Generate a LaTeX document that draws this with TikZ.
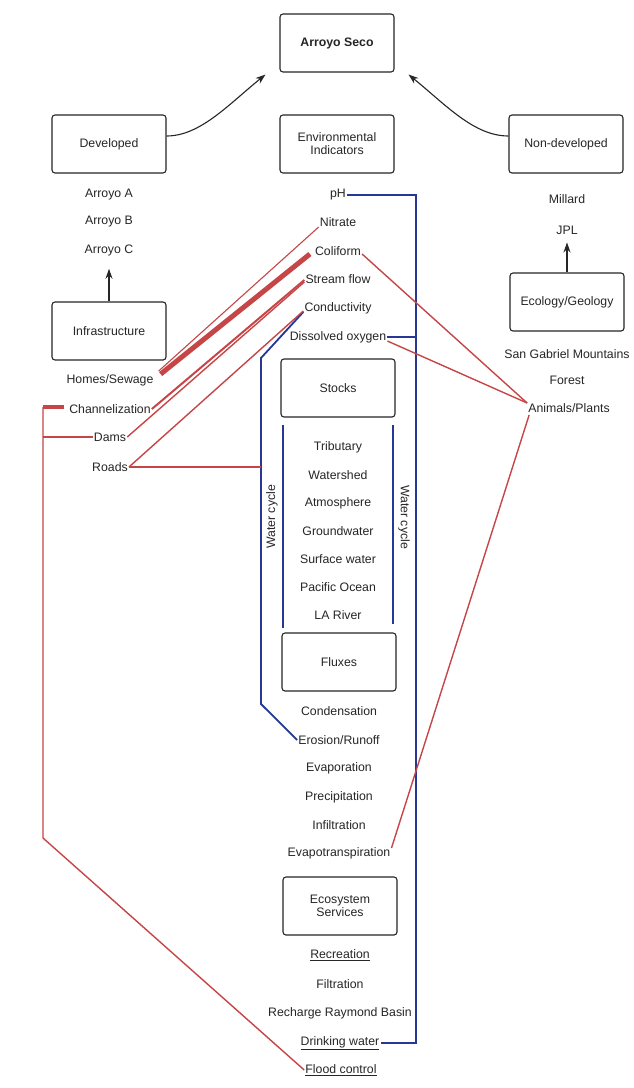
\documentclass[tikz,border=0pt]{standalone}
\usepackage{fontspec}
\setmainfont{Liberation Sans}
\usetikzlibrary{arrows.meta,calc}
\definecolor{rl}{RGB}{198,70,72}
\definecolor{bl}{RGB}{38,56,148}
\definecolor{tx}{RGB}{38,38,38}
\newcommand\myfs{\fontsize{12.3}{15}\selectfont}
\begin{document}
\begin{tikzpicture}[x=1pt,y=-1pt,
  box/.style={draw=black!85, line width=1.1pt, rounded corners=3pt, minimum width=114pt, minimum height=58pt, align=center, text=tx, font=\myfs, inner sep=2pt},
  lbl/.style={text=tx, font=\myfs, inner sep=1pt},
  rline/.style={draw=rl, line width=1.4pt},
  bline/.style={draw=bl, line width=1.8pt},
  blk/.style={draw=black!85, line width=1.1pt, -{Stealth[length=10pt,width=7pt]}}]
\fill[white] (0,0) rectangle (634,1088);
\useasboundingbox (0,0) rectangle (634,1088);

% boxes
\node[box, font=\myfs\bfseries] (seco) at (337,43) {Arroyo Seco};
\node[box] (dev) at (109,144) {Developed};
\node[box] (env) at (337,144) {Environmental\\[-2pt]Indicators};
\node[box] (nondev) at (566,144) {Non-developed};
\node[box] (infra) at (109,331) {Infrastructure};
\node[box] (ecogeo) at (567,302) {Ecology/Geology};
\node[box] (stocks) at (338,388) {Stocks};
\node[box] (fluxes) at (339,662) {Fluxes};
\node[box] (ecoserv) at (340,906) {Ecosystem\\[-2pt]Services};

% left column
\node[lbl] (aa) at (109,195) {Arroyo A};
\node[lbl] (ab) at (109,222) {Arroyo B};
\node[lbl] (ac) at (109,250) {Arroyo C};
\node[lbl] (homes) at (110,380) {Homes/Sewage};
\node[lbl] (chan) at (110,409) {Channelization};
\node[lbl] (dams) at (110,437) {Dams};
\node[lbl] (roads) at (110,467) {Roads};

% middle column
\node[lbl] (ph) at (338,195) {pH};
\node[lbl] (nit) at (338,222) {Nitrate};
\node[lbl] (coli) at (338,251) {Coliform};
\node[lbl] (sflow) at (338,279) {Stream flow};
\node[lbl] (cond) at (338,308) {Conductivity};
\node[lbl] (dox) at (338,337) {Dissolved oxygen};
\node[lbl] (trib) at (338,447) {Tributary};
\node[lbl] (wshed) at (338,475) {Watershed};
\node[lbl] (atm) at (338,503) {Atmosphere};
\node[lbl] (gw) at (338,531) {Groundwater};
\node[lbl] (sw) at (338,559) {Surface water};
\node[lbl] (po) at (338,587) {Pacific Ocean};
\node[lbl] (lar) at (338,615) {LA River};
\node[lbl] (cons) at (339,711) {Condensation};
\node[lbl] (eros) at (339,740) {Erosion/Runoff};
\node[lbl] (evap) at (339,768) {Evaporation};
\node[lbl] (prec) at (339,797) {Precipitation};
\node[lbl] (infl) at (339,825) {Infiltration};
\node[lbl] (evtr) at (339,853) {Evapotranspiration};
\node[lbl] (rec) at (340,955) {\underline{Recreation}};
\node[lbl] (filt) at (340,984) {Filtration};
\node[lbl] (rrb) at (340,1013) {Recharge Raymond Basin};
\node[lbl] (drink) at (340,1043) {\underline{Drinking water}};
\node[lbl] (flood) at (341,1070) {\underline{Flood control}};

% right column
\node[lbl] (mill) at (567,199) {Millard};
\node[lbl] (jpl) at (567,230) {JPL};
\node[lbl] (sgm) at (567,354) {San Gabriel Mountains};
\node[lbl] (forest) at (567,380) {Forest};
\node[lbl] (anim) at (569,408) {Animals/Plants};

% black arrows
\draw[blk] ($(dev.east)+(0,-8)$) .. controls (200,136) and (228,105) .. ($(seco.south west)+(-14,2)$);
\draw[blk] ($(nondev.west)+(0,-8)$) .. controls (474,136) and (446,105) .. ($(seco.south east)+(14,2)$);
\draw[blk] (infra.north) -- ($(ac.south)+(0,12)$);
\draw[blk] (ecogeo.north) -- ($(jpl.south)+(0,7)$);

% coordinates for blue brackets
\coordinate (oL1) at (261,358);
\coordinate (oL2) at (261,704);
\coordinate (bR) at (416,0);
\coordinate (iL1) at (283,425);
\coordinate (iL2) at (283,628);
\coordinate (iR1) at (393,425);
\coordinate (iR2) at (393,624);
\coordinate (lb1) at (43,407);
\coordinate (lb2) at (43,838);

% blue lines
\draw[bline] (ph.east) -- (ph.east -| bR) -- (drink.east -| bR) -- (drink.east);
\draw[bline] (dox.east) -- (dox.east -| bR);
\draw[bline] ($(cond.west)+(0,4)$) -- (oL1) -- (oL2) -- (eros.west);
\draw[bline] (iL1) -- (iL2);
\draw[bline] (iR1) -- (iR2);
\node[lbl, rotate=90] (wcl) at (272,517) {Water cycle};
\node[lbl, rotate=-90] (wcr) at (404,517) {Water cycle};

% red lines
\draw[rline, line width=1.1pt] ($(nit.west)+(0,5)$) -- ($(homes.north east)+(4,-2)$);
\draw[rline, line width=5pt] ($(coli.west)+(-4,3)$) -- ($(homes.north east)+(6,1)$);
\draw[rline, line width=2pt] ($(sflow.west)+(0,1)$) -- (chan.east);
\draw[rline] ($(sflow.west)+(0,3)$) -- (dams.east);
\draw[rline] ($(cond.west)+(0,3)$) -- (roads.east);
\draw[rline] (roads.east) -- (roads.east -| oL1);
\draw[rline] ($(coli.east)+(0,3)$) -- ($(anim.west)+(0,-5)$);
\draw[rline] ($(dox.east)+(0,4)$) -- ($(anim.west)+(0,-5)$);
\draw[rline] ($(anim.west)+(2,7)$) -- ($(evtr.east)+(0,-5)$);
\draw[rline, line width=4pt] ($(chan.west)+(-4,-2)$) -- (lb1);
\draw[rline] (lb1) -- (lb2) -- (flood.west);
\draw[rline] (dams.west) -- (dams.west -| lb1);
\end{tikzpicture}
\end{document}
